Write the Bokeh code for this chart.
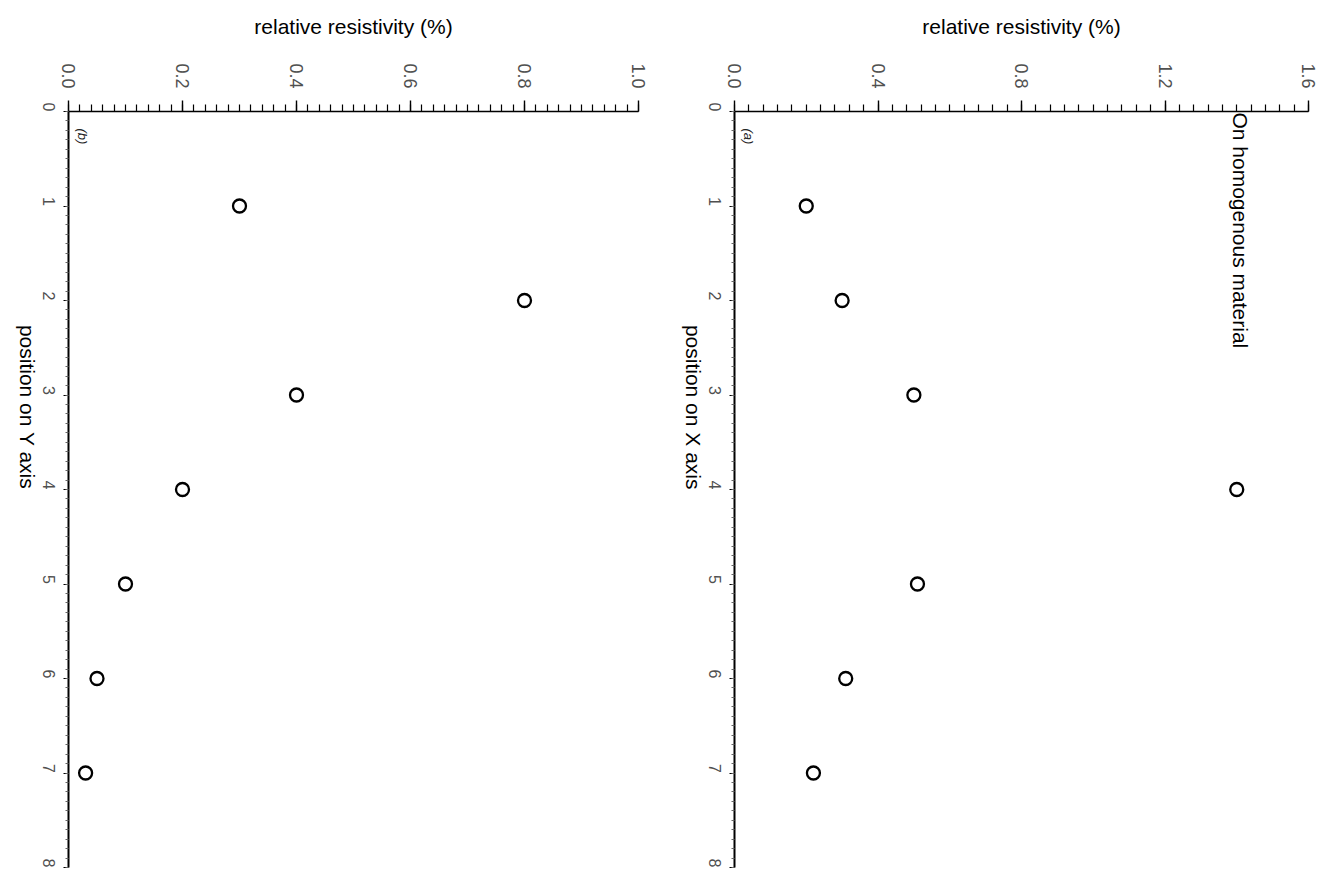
import math
from bokeh.plotting import figure
from bokeh.layouts import row
from bokeh.models import Range1d, SingleIntervalTicker, PrintfTickFormatter, Label
from bokeh.embed import file_html
from bokeh.resources import INLINE

# ---- data ----
positions = [1, 2, 3, 4, 5, 6, 7]
res_on_x_axis = [0.20, 0.30, 0.50, 1.40, 0.51, 0.31, 0.22]   # panel (a)
res_on_y_axis = [0.30, 0.80, 0.40, 0.20, 0.10, 0.05, 0.03]   # panel (b)
pos_max = 8
res_max_a = 1.6
res_max_b = 1.0
res_step_a = 0.4
res_step_b = 0.2

FONT = "Liberation Sans"
ROT = -math.pi / 2


def make_panel(vals, xmax, step, pos_title, tag, lb, rb, fw, title=None):
    p = figure(x_range=Range1d(0, xmax), y_range=Range1d(pos_max, 0),
               frame_width=fw, frame_height=756,
               min_border_left=lb, min_border_right=rb,
               min_border_top=111, min_border_bottom=5,
               x_axis_location="above", y_axis_location="left",
               output_backend="svg", toolbar_location=None)
    p.grid.visible = False
    p.outline_line_color = None
    p.background_fill_color = "white"
    p.border_fill_color = "white"

    xa = p.xaxis[0]
    xa.ticker = SingleIntervalTicker(interval=step, num_minor_ticks=10)
    xa.formatter = PrintfTickFormatter(format="%.1f")
    xa.axis_label = "relative resistivity (%)"
    xa.axis_label_text_font = FONT
    xa.axis_label_text_font_size = "21px"
    xa.axis_label_text_font_style = "normal"
    xa.axis_label_text_color = "black"
    xa.axis_label_standoff = 22
    xa.major_label_orientation = ROT
    xa.major_label_text_font = FONT
    xa.major_label_text_font_size = "18px"
    xa.major_label_text_color = "#505050"
    xa.major_label_standoff = 12
    xa.axis_line_width = 1.6
    xa.major_tick_out = 11
    xa.major_tick_in = 0
    xa.minor_tick_out = 7
    xa.minor_tick_in = 0
    xa.major_tick_line_width = 1.4
    xa.minor_tick_line_width = 1.2

    ya = p.yaxis[0]
    ya.ticker = SingleIntervalTicker(interval=1, num_minor_ticks=10)
    ya.axis_label = pos_title
    ya.axis_label_orientation = ROT
    ya.axis_label_text_font = FONT
    ya.axis_label_text_font_size = "21px"
    ya.axis_label_text_font_style = "normal"
    ya.axis_label_text_color = "black"
    ya.axis_label_standoff = 6
    ya.major_label_orientation = ROT
    ya.major_label_text_font = FONT
    ya.major_label_text_font_size = "16px"
    ya.major_label_text_color = "#505050"
    ya.major_label_standoff = 15
    ya.axis_line_width = 2
    ya.major_tick_out = 5
    ya.major_tick_in = 0
    ya.minor_tick_out = 3
    ya.minor_tick_in = 0
    ya.minor_tick_line_color = "#666666"

    p.scatter(x=vals, y=positions, marker="circle", size=13,
              fill_color=None, line_color="black", line_width=2.3)

    p.add_layout(Label(x=0, y=0.18, x_offset=14, text=tag, angle=ROT,
                       text_font=FONT, text_font_size="13px",
                       text_font_style="italic", text_align="left",
                       text_baseline="middle", text_color="#222222"))
    if title:
        p.add_layout(Label(x=1.41, y=0.01, text=title, angle=ROT,
                           text_font=FONT, text_font_size="21px",
                           text_align="left", text_baseline="middle",
                           text_color="black"))
    return p


pb = make_panel(res_on_y_axis, res_max_b, res_step_b, "position on Y axis", "(b)",
                68, 16, 570)
pa = make_panel(res_on_x_axis, res_max_a, res_step_a, "position on X axis", "(a)",
                80, 12, 574, title="On homogenous material")

layout = row(pb, pa)
open("out.html", "w").write(file_html(layout, INLINE))
